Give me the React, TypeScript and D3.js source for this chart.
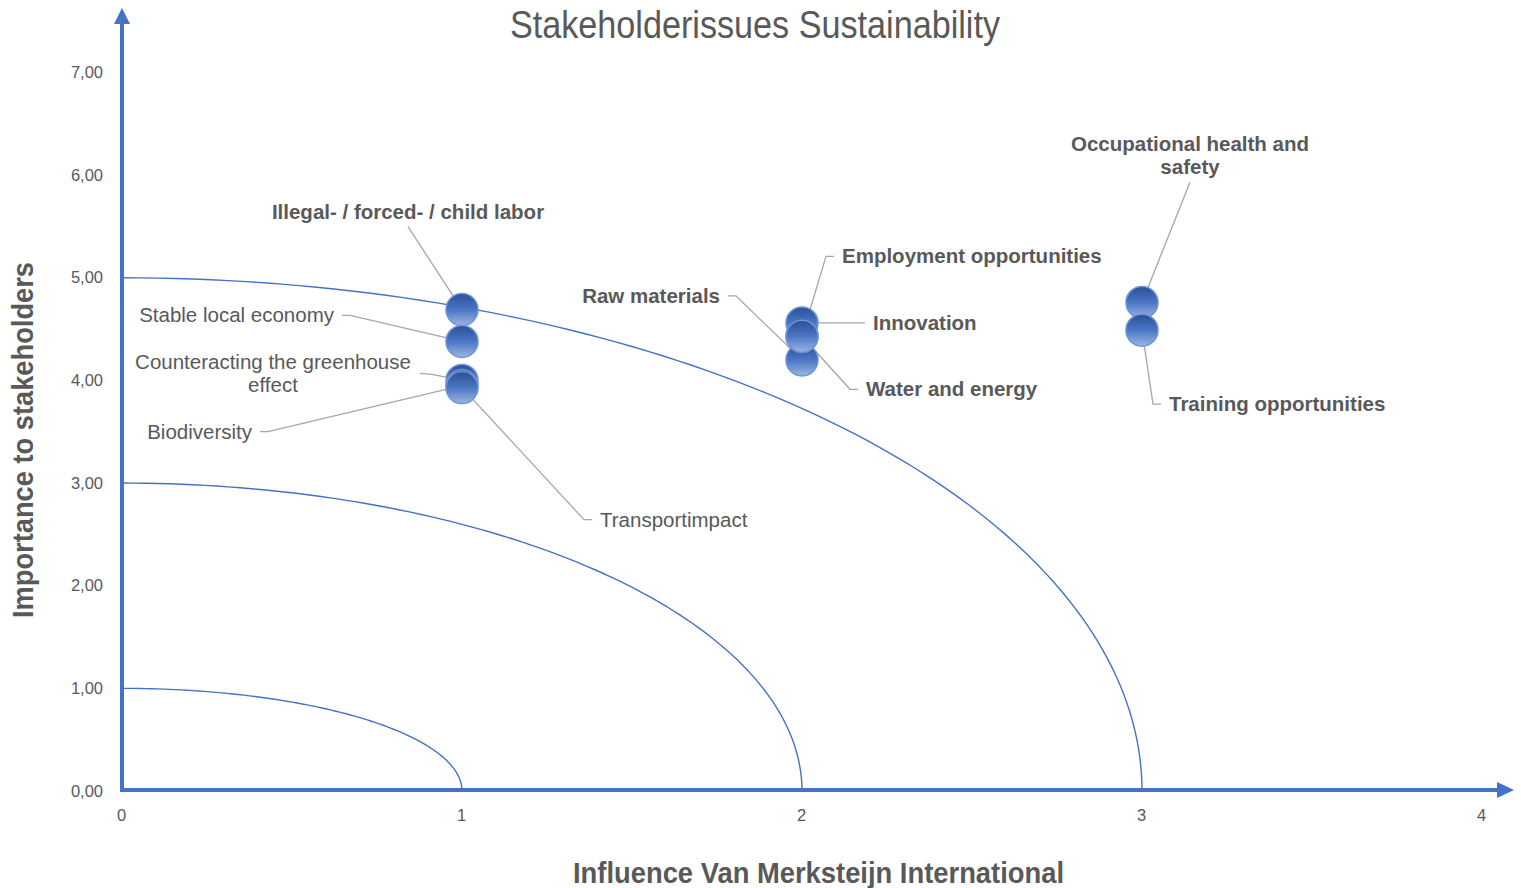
import React from "react";
import * as d3 from "d3";

const W = 1521;
const H = 888;

const xTicks = [0, 1, 2, 3, 4];
const yTicks = [0, 1, 2, 3, 4, 5, 6, 7];

const issueNames = [
  "Illegal- / forced- / child labor",
  "Stable local economy",
  "Counteracting the greenhouse effect",
  "Biodiversity",
  "Transportimpact",
  "Raw materials",
  "Employment opportunities",
  "Innovation",
  "Water and energy",
  "Occupational health and safety",
  "Training opportunities",
];
const influence = [1, 1, 1, 1, 1, 2, 2, 2, 2, 3, 3];
const importance = [4.69, 4.38, 4.0, 3.95, 3.93, 4.2, 4.43, 4.56, 4.43, 4.76, 4.49];

const labelLines = [
  ["Illegal- / forced- / child labor"],
  ["Stable local economy"],
  ["Counteracting the greenhouse", "effect"],
  ["Biodiversity"],
  ["Transportimpact"],
  ["Raw materials"],
  ["Employment opportunities"],
  ["Innovation"],
  ["Water and energy"],
  ["Occupational health and", "safety"],
  ["Training opportunities"],
];
const labelBold = [true, false, false, false, false, true, true, true, true, true, true];
const labelAnchor = ["middle", "end", "middle", "end", "start", "end", "start", "start", "start", "middle", "start"];
const labelDx = [-54, -128, -189, -210, 138, -82, 40, 71, 64, 48, 27];
const labelDy = [-98, -26, -7, 46, 132, -64, -80, 0, 53, -147, 74];
// where the leader leaves the label: "below", "side", or "right" (beside a multi-line label)
const leaderFrom = ["below", "side", "right", "side", "side", "side", "side", "side", "side", "below", "side"];

const ellipses = [
  [1, 1],
  [2, 3],
  [3, 5],
];

export default function App() {
  const x = d3.scaleLinear().domain([0, 4]).range([122, 1482]);
  const y = d3.scaleLinear().domain([0, 7]).range([791, 72.5]);
  const blue = "#4472C4";
  const grey = "#595959";
  const sans = "'Liberation Sans', Arial, sans-serif";
  const FS = 20.5;
  const LH = 23.5;

  const ellipsePath = (rx: number, ry: number) => {
    const pts: [number, number][] = d3.range(0, 91).map((deg) => {
      const t = (deg * Math.PI) / 180;
      return [x(rx * Math.sin(t)), y(ry * Math.cos(t))];
    });
    return d3.line()(pts) as string;
  };

  return (
    <svg width={W} height={H} style={{ position: "absolute", left: 0, top: 0, background: "#fff" }}>
      <defs>
        <linearGradient id="ball" x1="0" y1="0" x2="0" y2="1">
          <stop offset="0" stopColor="#2a4f96" />
          <stop offset="0.5" stopColor="#4a76c4" />
          <stop offset="1" stopColor="#9db5e2" />
        </linearGradient>
      </defs>
      <rect width={W} height={H} fill="#fff" />

      {/* title */}
      <text
        x={510}
        y={38}
        textLength={490}
        lengthAdjust="spacingAndGlyphs"
        fontFamily={sans}
        fontSize={38}
        fill={grey}
      >
        Stakeholderissues Sustainability
      </text>

      {/* ellipses */}
      {ellipses.map(([rx, ry], i) => (
        <path key={i} d={ellipsePath(rx, ry)} fill="none" stroke={blue} strokeWidth={1.4} />
      ))}

      {/* y ticks */}
      {yTicks.map((t) => (
        <text key={t} x={103} y={y(t) + 5.5} textAnchor="end" fontFamily={sans} fontSize={16.5} fill={grey}>
          {t.toFixed(2).replace(".", ",")}
        </text>
      ))}
      {/* x ticks */}
      {xTicks.map((t) => (
        <text key={t} x={x(t) - 0.5} y={821} textAnchor="middle" fontFamily={sans} fontSize={16.5} fill={grey}>
          {t}
        </text>
      ))}

      {/* axes */}
      <line x1={122} y1={792} x2={122} y2={22} stroke={blue} strokeWidth={4} />
      <path d="M122,8 L114,24 L130,24 Z" fill={blue} />
      <line x1={120} y1={790} x2={1498} y2={790} stroke={blue} strokeWidth={4} />
      <path d="M1514,790 L1497,782 L1497,798 Z" fill={blue} />

      {/* axis titles */}
      <text
        transform={`translate(33,618) rotate(-90)`}
        textLength={356}
        lengthAdjust="spacingAndGlyphs"
        fontFamily={sans}
        fontWeight="bold"
        fontSize={29}
        fill={grey}
      >
        Importance to stakeholders
      </text>
      <text
        x={573}
        y={883}
        textLength={491}
        lengthAdjust="spacingAndGlyphs"
        fontFamily={sans}
        fontWeight="bold"
        fontSize={29}
        fill={grey}
      >
        Influence Van Merksteijn International
      </text>

      {/* leader lines */}
      {issueNames.map((name, i) => {
        const px = x(influence[i]);
        const py = y(importance[i]);
        const lx = px + labelDx[i];
        const ly = py + labelDy[i];
        const anchor = labelAnchor[i];
        const nLines = labelLines[i].length;
        let pts: [number, number][];
        if (leaderFrom[i] === "below") {
          pts = [[lx, ly + ((nLines - 1) * LH) / 2 + 15], [px, py]];
        } else if (leaderFrom[i] === "right") {
          pts = [[px - 42, ly], [px - 30, ly + 1], [px, py]];
        } else if (anchor === "end") {
          pts = [[lx + 8, ly], [lx + 16, ly], [px, py]];
        } else {
          pts = [[lx - 8, ly], [lx - 16, ly], [px, py]];
        }
        return <path key={name} d={d3.line()(pts) as string} fill="none" stroke="#a6a6a6" strokeWidth={1.3} />;
      })}

      {/* points */}
      {issueNames.map((name, i) => (
        <circle
          key={name}
          cx={x(influence[i])}
          cy={y(importance[i])}
          r={16}
          fill="url(#ball)"
          stroke="#6f94d6"
          strokeWidth={1.5}
        />
      ))}

      {/* labels */}
      {issueNames.map((name, i) => {
        const px = x(influence[i]);
        const py = y(importance[i]);
        const lx = px + labelDx[i];
        const ly = py + labelDy[i];
        const lines = labelLines[i];
        const startY = ly - ((lines.length - 1) * LH) / 2 + 7;
        return (
          <text
            key={name}
            textAnchor={labelAnchor[i] as any}
            fontFamily={sans}
            fontWeight={labelBold[i] ? "bold" : "normal"}
            fontSize={FS}
            fill={grey}
          >
            {lines.map((l, j) => (
              <tspan key={j} x={lx} y={startY + j * LH}>
                {l}
              </tspan>
            ))}
          </text>
        );
      })}
    </svg>
  );
}
